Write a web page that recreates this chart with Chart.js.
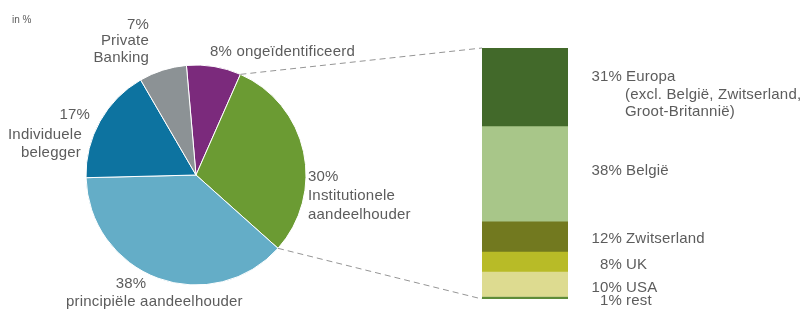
<!DOCTYPE html>
<html>
<head>
<meta charset="utf-8">
<script src="https://cdn.jsdelivr.net/npm/chart.js@4.4.1/dist/chart.umd.min.js"></script>
<style>
html,body{margin:0;padding:0;background:#fff;}
#wrap{position:relative;width:802px;height:309px;overflow:hidden;}
#wrap canvas{position:absolute;left:0;top:0;}
</style>
</head>
<body>
<div id="wrap">
<canvas id="pie" width="802" height="309"></canvas>
<canvas id="bar" width="802" height="309"></canvas>
</div>
<script>
// Pie: shareholder structure (in %)
const pieCategories = ['ongeïdentificeerd', 'Institutionele aandeelhouder', 'principiële aandeelhouder', 'Individuele belegger', 'Private Banking'];
const pieValues = [8, 30, 38, 17, 7];
const pieColors = ['#7b2a7c', '#6b9b33', '#64adc7', '#0d73a0', '#8c9295'];

// Stacked bar: breakdown of institutional shareholders by region (in %)
const barCategories = ['Europa', 'België', 'Zwitserland', 'UK', 'USA', 'rest'];
const barValues = [31, 38, 12, 8, 10, 1];
const barColors = ['#42692a', '#a8c689', '#72791f', '#b8bb27', '#dddb90', '#5e8c38'];

const FONT = '15px "Liberation Sans", Arial, sans-serif';
const TXT = '#5c5c5c';

Chart.defaults.animation = false;

const pieChart = new Chart(document.getElementById('pie'), {
  type: 'pie',
  data: {
    labels: pieCategories,
    datasets: [{ data: pieValues, backgroundColor: pieColors, borderColor: '#ffffff', borderWidth: 1 }]
  },
  options: {
    responsive: false,
    rotation: -5,
    layout: { padding: { left: 85.5, right: 495.5, top: 64.5, bottom: 23.5 } },
    plugins: { legend: { display: false }, tooltip: { enabled: false } }
  }
});

function txt(ctx, s, x, y, align) {
  ctx.textAlign = align || 'left';
  ctx.fillText(s, x, y);
}

const overlay = {
  id: 'overlay',
  afterDraw(chart) {
    const ctx = chart.ctx;
    const area = chart.chartArea;
    // dashed connectors from the institutional slice to the bar
    const arc = pieChart.getDatasetMeta(0).data[1];
    const r = arc.outerRadius;
    const p1 = { x: arc.x + r * Math.cos(arc.startAngle), y: arc.y + r * Math.sin(arc.startAngle) };
    const p2 = { x: arc.x + r * Math.cos(arc.endAngle), y: arc.y + r * Math.sin(arc.endAngle) };
    ctx.save();
    ctx.strokeStyle = '#959595';
    ctx.lineWidth = 1;
    ctx.setLineDash([6, 4]);
    ctx.beginPath();
    ctx.moveTo(p1.x, p1.y); ctx.lineTo(area.left, area.top);
    ctx.moveTo(p2.x, p2.y); ctx.lineTo(area.left, area.bottom);
    ctx.stroke();
    ctx.restore();

    ctx.save();
    ctx.fillStyle = TXT;
    ctx.textBaseline = 'middle';
    ctx.font = '10px "Liberation Sans", Arial, sans-serif';
    txt(ctx, 'in %', 12, 20);
    ctx.font = FONT;
    ctx.letterSpacing = '0.2px';
    // pie labels
    txt(ctx, pieValues[4] + '%', 149, 25, 'right');
    txt(ctx, 'Private', 149, 41, 'right');
    txt(ctx, 'Banking', 149, 58, 'right');
    txt(ctx, pieValues[0] + '% ' + pieCategories[0], 210, 52);
    txt(ctx, pieValues[3] + '%', 90, 115, 'right');
    txt(ctx, 'Individuele', 8, 135);
    txt(ctx, 'belegger', 21, 153);
    txt(ctx, pieValues[1] + '%', 308, 177);
    txt(ctx, 'Institutionele', 308, 196);
    txt(ctx, 'aandeelhouder', 308, 215);
    txt(ctx, pieValues[2] + '%', 131, 284, 'center');
    txt(ctx, 'principiële aandeelhouder', 66, 302);
    // bar labels
    const pr = 622, nm = 626;
    const rows = [
      [0, 77], [1, 171], [2, 239], [3, 265], [4, 288], [5, 301]
    ];
    rows.forEach(([i, y]) => {
      txt(ctx, barValues[i] + '%', pr, y, 'right');
      txt(ctx, barCategories[i], nm, y);
    });
    txt(ctx, '(excl. België, Zwitserland,', 625, 95);
    txt(ctx, 'Groot-Britannië)', 625, 112);
    ctx.restore();
  }
};

new Chart(document.getElementById('bar'), {
  type: 'bar',
  data: {
    labels: ['Institutionele aandeelhouder'],
    datasets: barCategories.map((c, i) => ({
      label: c,
      data: [barValues[i]],
      backgroundColor: barColors[i],
      borderWidth: 0,
      barPercentage: 1,
      categoryPercentage: 1
    }))
  },
  options: {
    responsive: false,
    layout: { padding: { left: 482, right: 234, top: 48, bottom: 10 } },
    scales: {
      x: { stacked: true, display: false },
      y: { stacked: true, display: false, reverse: true, min: 0, max: 100 }
    },
    plugins: { legend: { display: false }, tooltip: { enabled: false } }
  },
  plugins: [overlay]
});
</script>
</body>
</html>
